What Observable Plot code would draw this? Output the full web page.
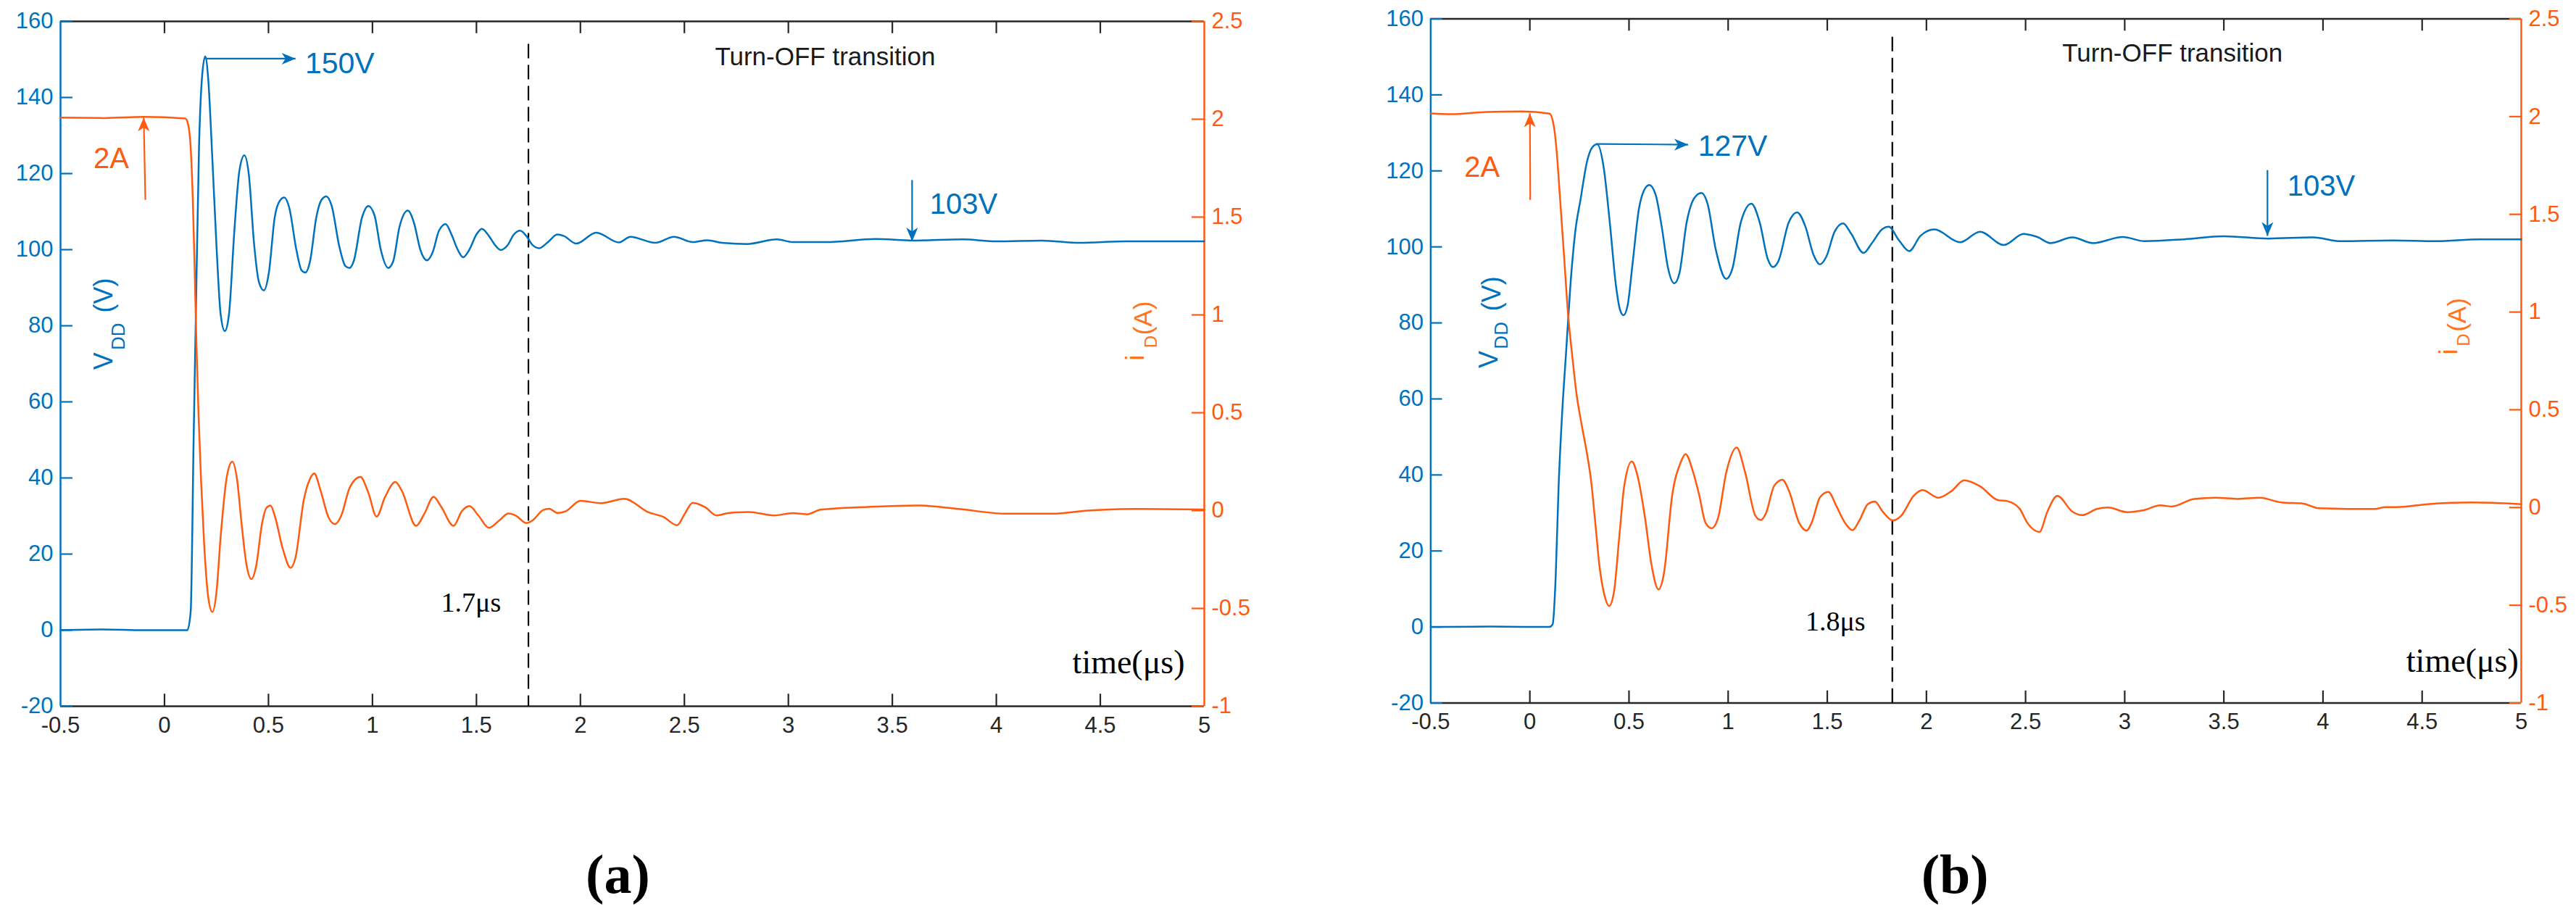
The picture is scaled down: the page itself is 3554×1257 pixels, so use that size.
<!DOCTYPE html>
<html>
<head>
<meta charset="utf-8">
<script src="https://cdn.jsdelivr.net/npm/d3@7"></script>
<script src="https://cdn.jsdelivr.net/npm/@observablehq/plot@0.6"></script>
<style>
  html, body { margin: 0; padding: 0; background: #fff; }
  #charts { display: flex; width: 3554px; height: 1257px; overflow: hidden; }
  svg { display: block; }
</style>
</head>
<body>
<div id="charts"></div>
<script>
// axis ticks
const xTicks = [-0.5, 0, 0.5, 1, 1.5, 2, 2.5, 3, 3.5, 4, 4.5, 5];
const vTicks = [-20, 0, 20, 40, 60, 80, 100, 120, 140, 160];
const iTicks = [-1, -0.5, 0, 0.5, 1, 1.5, 2, 2.5];

// panel (a) voltage
const timeVoltA = [-0.5,-0.3,-0.1,0.11,0.126,0.14,0.15,0.166,0.18,0.196,0.21,0.23,0.25,0.27,0.29,0.31,0.336,0.36,0.384,0.406,0.43,0.454,0.478,0.502,0.53,0.554,0.576,0.6,0.634,0.66,0.678,0.7,0.73,0.754,0.778,0.804,0.84,0.87,0.89,0.91,0.95,0.98,1.01,1.04,1.076,1.1,1.13,1.17,1.2,1.23,1.262,1.29,1.32,1.352,1.38,1.41,1.436,1.466,1.5,1.526,1.56,1.59,1.616,1.65,1.68,1.71,1.74,1.77,1.802,1.84,1.89,1.92,1.98,2.076,2.186,2.24,2.36,2.45,2.54,2.61,2.68,2.8,2.945,3.02,3.18,3.42,3.6,3.84,4,4.22,4.4,4.62,5];
const voltA = [0,0.2,0,0,5,50,80.5,127,145,150.8,145,124,101,83,78.6,83,105,120.7,124.8,119.5,102,91.5,89.3,94,108.5,112.8,113.7,111,100,94.5,94,97,108.5,113,114,111.5,101,95.7,95.2,97,108.5,111.5,109,100,95.2,97,106,110.3,107,100,97.2,99.4,105,106.7,104,100,98,100,104,105.5,103.6,101.2,99.9,101.2,104,105,103.6,101.2,100.4,101.8,104,103.6,101.6,104.5,101.9,103.4,101.8,103.4,102,102.5,101.8,101.5,102.7,102,102,102.8,102.4,102.7,102.2,102.4,101.8,102.2,102.2];

// panel (a) current
const timeCurrA = [-0.5,-0.29,-0.1,0.1,0.114,0.126,0.136,0.146,0.154,0.164,0.176,0.19,0.21,0.23,0.25,0.27,0.3,0.326,0.35,0.37,0.394,0.418,0.44,0.47,0.49,0.51,0.53,0.57,0.606,0.63,0.67,0.7,0.72,0.75,0.79,0.82,0.85,0.89,0.942,0.98,1.02,1.06,1.11,1.14,1.21,1.25,1.294,1.33,1.39,1.43,1.466,1.51,1.56,1.61,1.654,1.69,1.74,1.77,1.82,1.85,1.89,1.93,2,2.1,2.21,2.33,2.4,2.465,2.5,2.54,2.6,2.655,2.71,2.81,2.93,3.02,3.09,3.155,3.42,3.62,3.82,4.045,4.27,4.44,4.665,5];
const currA = [2.008,2.006,2.012,2.004,1.971,1.853,1.593,1.19,0.836,0.48,0.15,-0.157,-0.44,-0.518,-0.416,-0.133,0.175,0.25,0.15,-0.06,-0.275,-0.35,-0.287,-0.06,0.014,0.026,-0.026,-0.2,-0.293,-0.24,0.056,0.163,0.19,0.104,-0.038,-0.069,-0.026,0.116,0.172,0.092,-0.031,0.068,0.146,0.104,-0.078,-0.015,0.07,0.02,-0.078,-0.003,0.023,-0.026,-0.088,-0.05,-0.015,-0.026,-0.064,-0.05,0.002,0.009,-0.012,-0.003,0.05,0.038,0.06,-0.01,-0.033,-0.075,-0.02,0.04,0.017,-0.025,-0.013,-0.007,-0.025,-0.013,-0.019,0.005,0.02,0.026,0.008,-0.016,-0.016,0,0.008,0.005];

// panel (b) voltage
const timeVoltB = [-0.5,-0.2,0.099,0.115,0.13,0.145,0.162,0.183,0.204,0.229,0.256,0.288,0.315,0.34,0.372,0.403,0.435,0.455,0.472,0.493,0.518,0.55,0.577,0.602,0.634,0.665,0.697,0.728,0.754,0.791,0.83,0.865,0.896,0.938,0.99,1.022,1.064,1.117,1.159,1.2,1.226,1.253,1.306,1.348,1.39,1.43,1.463,1.495,1.537,1.58,1.62,1.683,1.725,1.778,1.81,1.862,1.913,1.97,2.04,2.17,2.27,2.39,2.49,2.56,2.625,2.736,2.84,2.99,3.1,3.3,3.5,3.725,3.95,4.09,4.35,4.57,4.79,5];
const voltB = [0,0.1,0,0.7,12.9,37,55.5,72.5,89.5,104,112.6,122.4,126.2,127,121,106.5,89.5,83.4,82,84.6,95.6,110,115,116.3,113.8,105.3,94.4,90.4,93,106.5,112.9,114.2,111.4,99.2,91.6,94.4,106.5,111.4,106.5,96.8,94.7,96.2,106.5,109.1,105.3,98,95.4,97.4,104,106.2,103.5,98.4,101,104.7,105.3,101.7,98.9,102.9,104.6,101.2,104,100.5,103.4,102.6,101,102.5,101,102.6,101.5,102,102.8,102.2,102.5,101.5,101.7,101.5,102,102];

// panel (b) current
const timeCurrB = [-0.5,-0.4,-0.216,-0.04,0.099,0.12,0.134,0.151,0.172,0.193,0.214,0.235,0.262,0.288,0.309,0.33,0.35,0.378,0.4,0.424,0.451,0.476,0.514,0.544,0.581,0.613,0.649,0.676,0.718,0.76,0.785,0.823,0.854,0.886,0.917,0.949,0.991,1.043,1.085,1.138,1.165,1.19,1.232,1.274,1.306,1.358,1.396,1.421,1.463,1.505,1.547,1.589,1.627,1.662,1.704,1.74,1.778,1.83,1.872,1.935,1.98,2.06,2.125,2.19,2.27,2.36,2.41,2.47,2.51,2.57,2.61,2.66,2.736,2.785,2.86,2.915,3.014,3.09,3.18,3.236,3.35,3.46,3.57,3.68,3.79,3.9,3.98,4.126,4.26,4.315,4.37,4.526,4.75,5];
const currB = [2.016,2.012,2.024,2.026,2.015,1.956,1.837,1.6,1.293,0.986,0.773,0.584,0.419,0.277,0.135,-0.078,-0.29,-0.456,-0.504,-0.433,-0.149,0.111,0.236,0.158,-0.054,-0.29,-0.419,-0.338,0.064,0.229,0.274,0.182,0.064,-0.078,-0.106,-0.054,0.182,0.307,0.182,-0.043,-0.064,-0.031,0.111,0.142,0.087,-0.078,-0.118,-0.078,0.052,0.08,0.005,-0.078,-0.116,-0.066,0.017,0.031,-0.019,-0.066,-0.043,0.059,0.089,0.05,0.083,0.139,0.109,0.038,0.032,-0.006,-0.08,-0.125,-0.021,0.059,-0.021,-0.039,-0.007,0,-0.024,-0.015,0.011,0.005,0.044,0.05,0.044,0.05,0.026,0.02,-0.004,-0.007,-0.007,0.002,0.002,0.017,0.026,0.017];

const blue = "#0072BD";
const orange = "#FF5A10";
const labelOrange = "#FF7420";
const dark = "#262626";
const sans = "Liberation Sans, Arial, sans-serif";
const serif = "Liberation Serif, Times New Roman, serif";
// inward tick length, in axis units (about 17px)
const tickV = 3.2;
const tickT = 0.059;

// the current axis is the voltage axis rescaled: -1..2.5 A over -20..160 V
const toV = (a) => ((a + 1) * 180) / 3.5 - 20;
const fromV = (v) => ((v + 20) * 3.5) / 180 - 1;

// notched arrow head, tip at the top
const headShape = {
  draw(c, size) {
    const r = Math.sqrt(size / Math.PI);
    c.moveTo(0, -r);
    c.lineTo(r * 0.85, r);
    c.lineTo(0, r * 0.45);
    c.lineTo(-r * 0.85, r);
    c.closePath();
  }
};

function arrow(a, color, rotate) {
  const r = 9.5;
  const dx = rotate === 90 ? -r : 0;
  const dy = rotate === 0 ? r : rotate === 180 ? -r : 0;
  return [
    Plot.link([a], { x1: "x1", y1: "y1", x2: "x2", y2: "y2", stroke: color, strokeWidth: 2.2 }),
    Plot.dot([a], { x: "x2", y: "y2", symbol: headShape, r, rotate, dx, dy, fill: color, stroke: "none" })
  ];
}

function panel(p) {
  const note = (x, y, text, o) =>
    Plot.text([text], { x: () => x, y: () => y, text: (d) => d, fontFamily: sans, ...o });
  const side = (x, y, text, size, color) =>
    note(x, y, text, { rotate: -90, fontSize: size, fill: color });

  return Plot.plot({
    width: 1777,
    height: 1257,
    marginLeft: p.left,
    marginRight: p.right,
    marginTop: p.top,
    marginBottom: p.bottom,
    style: { background: "none", fontFamily: sans, fontSize: "31px", overflow: "visible" },
    x: { domain: [-0.5, 5] },
    y: { domain: [-20, 160] },
    marks: [
      Plot.ruleY([160, -20], { stroke: dark, strokeWidth: 2.5 }),
      Plot.ruleX(xTicks.slice(1, -1), { y1: -20, y2: -20 + tickV, stroke: dark, strokeWidth: 2.2 }),
      Plot.ruleX(xTicks.slice(1, -1), { y1: 160, y2: 160 - tickV, stroke: dark, strokeWidth: 2.2 }),
      Plot.ruleY(vTicks, { x1: -0.5, x2: -0.5 + tickT, stroke: blue, strokeWidth: 2.2 }),
      Plot.ruleY(iTicks.map(toV), { x1: 5, x2: 5 - tickT, stroke: orange, strokeWidth: 2.2 }),
      Plot.axisX(xTicks, { anchor: "bottom", label: null, color: dark, tickSize: 0, tickPadding: 14, tickFormat: String }),
      Plot.axisY(vTicks, { anchor: "left", label: null, color: blue, tickSize: 0, tickPadding: 10, tickFormat: String }),
      Plot.axisY(iTicks.map(toV), { anchor: "right", label: null, color: orange, tickSize: 0, tickPadding: 10, tickFormat: (v) => String(+fromV(v).toFixed(1)) }),
      Plot.ruleX([-0.5], { stroke: blue, strokeWidth: 2.5 }),
      Plot.ruleX([5], { stroke: orange, strokeWidth: 2.5 }),

      Plot.ruleX([p.dash], { y1: p.dashTop, y2: -20, stroke: "#000", strokeWidth: 2.2, strokeDasharray: "20,9" }),

      Plot.line(p.tv, { x: (d) => d, y: (d, i) => p.v[i], stroke: blue, strokeWidth: 2.5, curve: "monotone-x" }),
      Plot.line(p.ti, { x: (d) => d, y: (d, i) => toV(p.i[i]), stroke: orange, strokeWidth: 2.5, curve: "monotone-x" }),

      // annotations
      arrow(p.peakArrow, blue, 90),
      note(p.peakText[0], p.peakText[1], p.peakLabel, { fontSize: 41, fill: blue, textAnchor: "start" }),
      arrow(p.ampArrow, orange, 0),
      note(p.ampText[0], p.ampText[1], "2A", { fontSize: 40, fill: orange }),
      arrow(p.steadyArrow, blue, 180),
      note(p.steadyText[0], p.steadyText[1], "103V", { fontSize: 40, fill: blue, textAnchor: "start" }),
      note(p.turnText[0], p.turnText[1], "Turn-OFF transition", { fontSize: 35, fill: "#1a1a1a", textAnchor: "start" }),
      note(p.timeText[0], p.timeText[1], "time(μs)", { fontSize: 46, fill: "#000", fontFamily: serif, textAnchor: "start" }),
      note(p.dashText[0], p.dashText[1], p.dashLabel, { fontSize: 38, fill: "#000", fontFamily: serif, textAnchor: "start" }),

      // rotated labels with a subscript, one piece each
      side(p.vdd[0][0], p.vdd[0][1], "V", 36, blue),
      side(p.vdd[1][0], p.vdd[1][1], "DD", 26, blue),
      side(p.vdd[2][0], p.vdd[2][1], "(V)", 36, blue),
      side(p.idd[0][0], p.idd[0][1], "i", 35, labelOrange),
      side(p.idd[1][0], p.idd[1][1], "D", 24, labelOrange),
      side(p.idd[2][0], p.idd[2][1], "(A)", 35, labelOrange),

      note(p.caption[0], p.caption[1], p.captionLabel, { fontSize: 76, fontWeight: "bold", fill: "#000", fontFamily: serif })
    ]
  });
}

const charts = document.getElementById("charts");

charts.append(panel({
  left: 83, right: 116, top: 29, bottom: 283,
  tv: timeVoltA, v: voltA, ti: timeCurrA, i: currA,
  dash: 1.75, dashTop: 154, dashLabel: "1.7μs", dashText: [1.33, 7.2],
  peakArrow: { x1: 0.196, x2: 0.63, y1: 150.2, y2: 150.2 }, peakLabel: "150V", peakText: [0.676, 148.9],
  ampArrow: { x1: -0.092, x2: -0.1, y1: 113.1, y2: 134.7 }, ampText: [-0.256, 123.8],
  steadyArrow: { x1: 3.595, x2: 3.595, y1: 118.3, y2: 102.2 }, steadyText: [3.68, 111.9],
  turnText: [2.647, 150.7], timeText: [4.366, -8.6],
  vdd: [[-0.29, 70.7], [-0.22, 77.2], [-0.29, 88]],
  idd: [[4.67, 71.6], [4.745, 75.8], [4.707, 82]],
  caption: [2.18, -64.4], captionLabel: "(a)"
}));

charts.append(panel({
  left: 196.4, right: 76, top: 25.5, bottom: 287.5,
  tv: timeVoltB, v: voltB, ti: timeCurrB, i: currB,
  dash: 1.828, dashTop: 155.2, dashLabel: "1.8μs", dashText: [1.39, 1.3],
  peakArrow: { x1: 0.334, x2: 0.798, y1: 127.1, y2: 126.9 }, peakLabel: "127V", peakText: [0.848, 126.4],
  ampArrow: { x1: 0.002, x2: 0, y1: 112.4, y2: 135.1 }, ampText: [-0.241, 120.9],
  steadyArrow: { x1: 3.72, x2: 3.72, y1: 120.2, y2: 102.9 }, steadyText: [3.82, 115.9],
  turnText: [2.685, 150.8], timeText: [4.42, -8.9],
  vdd: [[-0.206, 70.4], [-0.143, 76.7], [-0.191, 87.7]],
  idd: [[4.635, 72.4], [4.71, 75.5], [4.68, 82.1]],
  caption: [2.144, -65.3], captionLabel: "(b)"
}));
</script>
</body>
</html>
